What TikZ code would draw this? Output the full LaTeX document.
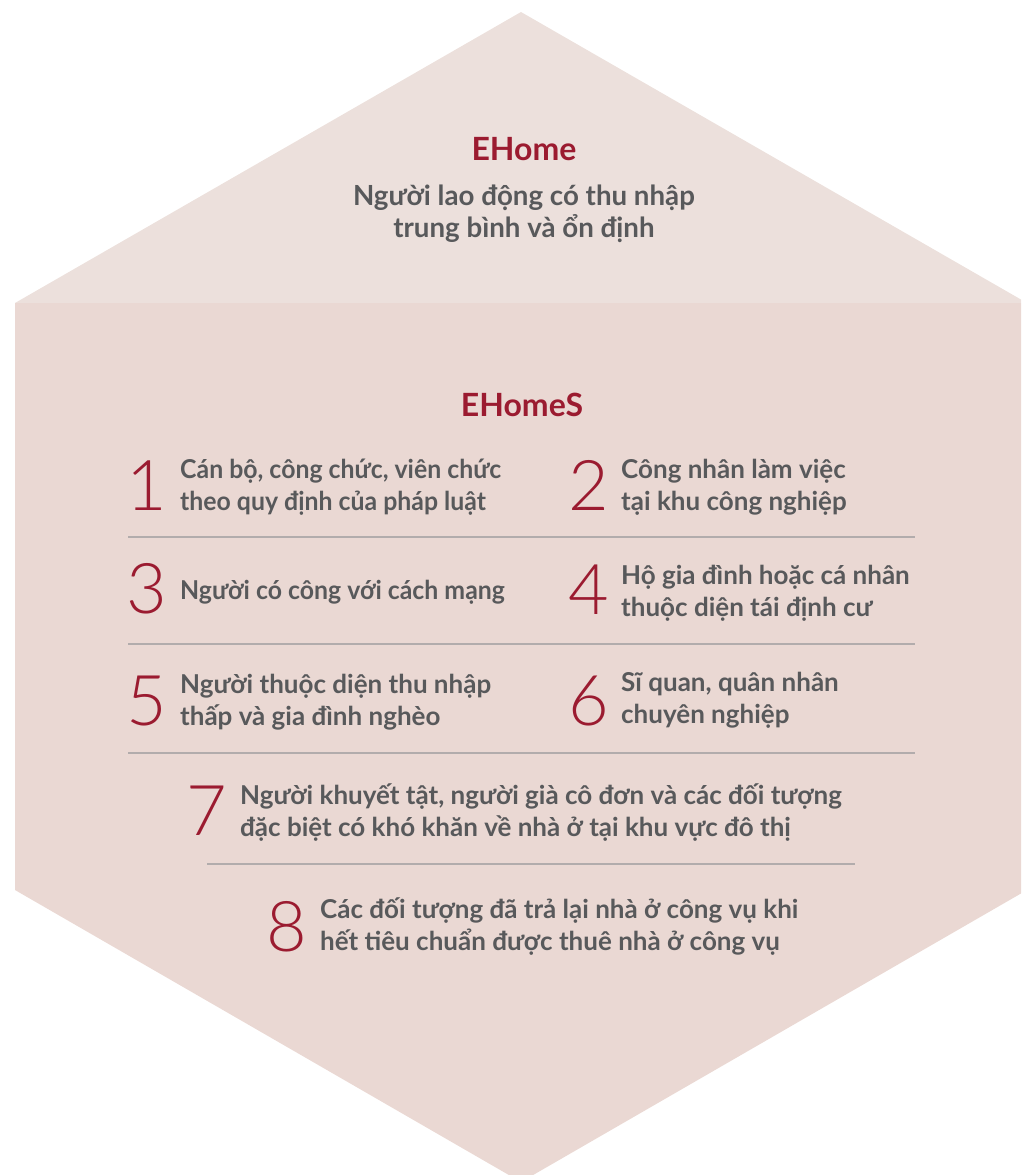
\documentclass[tikz,border=0pt]{standalone}
\usepackage{fontspec}
\setmainfont{Lato}
\newfontfamily\condfont{Lato}[FakeStretch=0.955]
\newfontfamily\numfont{Lato Light}
\definecolor{hexTop}{RGB}{236,224,220}
\definecolor{hexLow}{RGB}{234,216,211}
\definecolor{brandRed}{RGB}{155,27,48}
\definecolor{txtGray}{RGB}{88,89,91}
\definecolor{sepGray}{RGB}{178,172,172}
\tikzset{
  title/.style={inner sep=0pt, anchor=base, text=brandRed, font=\fontsize{32}{36}\selectfont\bfseries},
  body/.style={inner sep=0pt, text=txtGray, align=left, anchor=base west, font=\fontsize{26}{32}\selectfont\bfseries},
  condbody/.style={body, font=\fontsize{26}{32}\selectfont\condfont\bfseries},
  numeral/.style={inner sep=0pt, anchor=base, text=brandRed, font=\fontsize{70}{70}\selectfont\numfont},
  sepline/.style={draw=sepGray, line width=1.2pt}
}
\begin{document}
\begin{tikzpicture}[x=1pt,y=-1pt]
\useasboundingbox (0,0) rectangle (1021,1175);
\clip (0,0) rectangle (1021,1175);
% hexagon
\fill[hexTop] (521,12) -- (1027,303) -- (15,303) -- cycle;
\fill[hexLow] (15,303) -- (1027,303) -- (1027,890) -- (521,1182) -- (15,890) -- cycle;
% top block
\node[title] (ehome) at (524,160) {EHome};
\node[body, align=center, anchor=base, font=\fontsize{27.7}{32}\selectfont\bfseries] (ehomeTxt) at (524,237) {Người lao động có thu nhập\\trung bình và ổn định};
% EHomeS
\node[title] (ehomes) at (522,416) {EHomeS};
% items
\node[numeral] (n1) at (147,510) {1};
\node[condbody] (t1) at (180,510) {Cán bộ, công chức, viên chức\\theo quy định của pháp luật};
\node[numeral] (n2) at (589,510) {2};
\node[body] (t2) at (621,510) {Công nhân làm việc\\tại khu công nghiệp};
\draw[sepline] (128,537) -- (915,537);
\node[numeral] (n3) at (147,613) {3};
\node[condbody] (t3) at (180,599) {Người có công với cách mạng};
\node[numeral] (n4) at (589,614) {4};
\node[body] (t4) at (621,616) {Hộ gia đình hoặc cá nhân\\thuộc diện tái định cư};
\draw[sepline] (128,644) -- (915,644);
\node[numeral] (n5) at (147,725) {5};
\node[body] (t5) at (180,725) {Người thuộc diện thu nhập\\thấp và gia đình nghèo};
\node[numeral] (n6) at (589,725) {6};
\node[body] (t6) at (621,723) {Sĩ quan, quân nhân\\chuyên nghiệp};
\draw[sepline] (128,753) -- (915,753);
\node[numeral] (n7) at (207,835) {7};
\node[body] (t7) at (240,836) {Người khuyết tật, người già cô đơn và các đối tượng\\đặc biệt có khó khăn về nhà ở tại khu vực đô thị};
\draw[sepline] (207,864) -- (855,864);
\node[numeral] (n8) at (287,951) {8};
\node[body] (t8) at (320,950) {Các đối tượng đã trả lại nhà ở công vụ khi\\hết tiêu chuẩn được thuê nhà ở công vụ};
\end{tikzpicture}
\end{document}
